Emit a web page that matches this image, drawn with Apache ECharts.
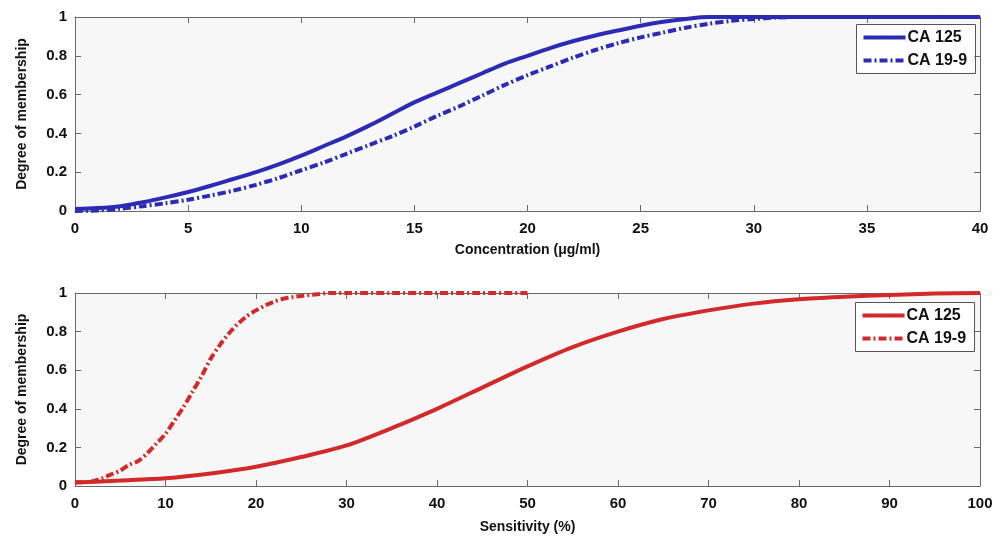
<!DOCTYPE html>
<html>
<head>
<meta charset="utf-8">
<script src="https://cdn.jsdelivr.net/npm/echarts@6/dist/echarts.min.js"></script>
<style>
  html, body { margin: 0; padding: 0; background: #ffffff; }
  #chart { width: 1007px; height: 539px; }
</style>
</head>
<body>
<div id="chart"></div>
<script>
// 浓度 (μg/ml)
const concX = [0, 1, 2, 3, 4, 5, 6, 7, 8, 9, 10, 11, 12, 13, 14, 15, 16, 17, 18, 19, 20,
  21, 22, 23, 24, 25, 26, 27, 28, 29, 30, 31, 32, 34, 36, 38, 40]
const concCA125 = [0.01, 0.015, 0.025, 0.045, 0.07, 0.098, 0.13, 0.165, 0.2, 0.24, 0.285,
  0.335, 0.385, 0.44, 0.5, 0.56, 0.61, 0.66, 0.71, 0.76, 0.8,
  0.84, 0.875, 0.905, 0.93, 0.955, 0.975, 0.99, 1, 1, 1, 1, 1, 1, 1, 1, 1]
const concCA199 = [0, 0.003, 0.012, 0.025, 0.04, 0.058, 0.08, 0.105, 0.135, 0.17, 0.21,
  0.25, 0.295, 0.34, 0.385, 0.435, 0.49, 0.54, 0.595, 0.65, 0.7,
  0.745, 0.79, 0.83, 0.865, 0.895, 0.92, 0.945, 0.965, 0.98, 0.99, 0.997, 1, 1, 1, 1, 1]

// 灵敏度 (%)
const sensX125 = [0, 5, 10, 15, 20, 25, 30, 35, 40, 45, 50, 55, 60, 65, 70, 75, 80, 85, 90, 95, 100]
const sensCA125 = [0.018, 0.028, 0.04, 0.065, 0.1, 0.15, 0.21, 0.3, 0.4, 0.51, 0.62,
  0.72, 0.8, 0.865, 0.91, 0.945, 0.967, 0.98, 0.99, 0.997, 1]
const sensX199 = [0, 1, 2, 3, 4, 5, 6, 7, 8, 9, 10, 11, 12, 13, 14, 15, 16, 17, 18, 19, 20,
  21, 22, 23, 24, 25, 26, 27, 28, 30, 35, 40, 45, 50]
const sensCA199 = [0.02, 0.02, 0.025, 0.04, 0.06, 0.08, 0.11, 0.13, 0.17, 0.22, 0.27,
  0.34, 0.41, 0.49, 0.57, 0.66, 0.73, 0.79, 0.84, 0.88, 0.91,
  0.935, 0.955, 0.97, 0.978, 0.985, 0.99, 0.995, 1, 1, 1, 1, 1, 1]

const legendLabels = ['CA 125', 'CA 19-9']

const blue = '#2b2bb5'
const red = '#d22a2a'
const dashDot = [8, 3, 2, 3]
const font = 'Liberation Sans, Arial, sans-serif'

const pairs = (xs, ys) => xs.map((x, i) => [x, ys[i]])

const labelStyle = { color: '#111', fontSize: 15, fontWeight: 'bold', fontFamily: font }
const nameStyle = { color: '#111', fontSize: 14, fontWeight: 'bold', fontFamily: font }
const axisLine = { show: true, onZero: false, lineStyle: { color: '#6a6a6a', width: 1 } }
const tick = { show: true, inside: true, length: 6, lineStyle: { color: '#6a6a6a' } }

function xAxisPair (gridIndex, max, interval, name, nameGap) {
  return [
    {
      gridIndex, type: 'value', min: 0, max, interval, position: 'bottom',
      name, nameLocation: 'middle', nameGap, nameTextStyle: nameStyle,
      axisLine, axisTick: tick, splitLine: { show: false },
      axisLabel: Object.assign({ margin: 10 }, labelStyle)
    },
    {
      gridIndex, type: 'value', min: 0, max, interval, position: 'top',
      axisLine, axisTick: tick, splitLine: { show: false }, axisLabel: { show: false }
    }
  ]
}

function yAxisPair (gridIndex) {
  return [
    {
      gridIndex, type: 'value', min: 0, max: 1, interval: 0.2, position: 'left',
      name: 'Degree of membership', nameLocation: 'middle', nameGap: 46, nameTextStyle: nameStyle,
      axisLine, axisTick: tick, splitLine: { show: false },
      axisLabel: Object.assign({ margin: 8 }, labelStyle)
    },
    {
      gridIndex, type: 'value', min: 0, max: 1, interval: 0.2, position: 'right',
      axisLine, axisTick: tick, splitLine: { show: false }, axisLabel: { show: false }
    }
  ]
}

// 图例用 graphic 画，带边框
function legendBox (left, top, color) {
  const rows = [
    { y: 13, dash: null },
    { y: 36, dash: dashDot }
  ]
  const children = [{
    type: 'rect', shape: { x: 0, y: 0, width: 119, height: 49 },
    style: { fill: '#fff', stroke: '#555', lineWidth: 1 }
  }]
  rows.forEach((r, i) => {
    children.push({
      type: 'line', shape: { x1: 7, y1: r.y, x2: 49, y2: r.y },
      style: { stroke: color, lineWidth: 4, lineDash: r.dash }
    })
    children.push({
      type: 'text', x: 51, y: r.y,
      style: {
        text: legendLabels[i], fill: '#111', fontSize: 16, fontWeight: 'bold',
        fontFamily: font, verticalAlign: 'middle'
      }
    })
  })
  return { type: 'group', left, top, children }
}

function lineSeries (name, x, y, xAxisIndex, yAxisIndex, color, type) {
  return {
    name, type: 'line', xAxisIndex, yAxisIndex, data: pairs(x, y),
    smooth: 0.3, symbol: 'none', showSymbol: false,
    lineStyle: { color, width: 4, type },
    itemStyle: { color }
  }
}

const chart = echarts.init(document.getElementById('chart'))
chart.setOption({
  backgroundColor: '#ffffff',
  animation: false,
  grid: [
    { left: 75, right: 27, top: 17, height: 194, show: true, backgroundColor: '#f7f7f7', borderWidth: 0 },
    { left: 75, right: 27, top: 293, height: 193, show: true, backgroundColor: '#f7f7f7', borderWidth: 0 }
  ],
  xAxis: [
    ...xAxisPair(0, 40, 5, 'Concentration (μg/ml)', 32),
    ...xAxisPair(1, 100, 10, 'Sensitivity (%)', 34)
  ],
  yAxis: [...yAxisPair(0), ...yAxisPair(1)],
  series: [
    lineSeries('CA 125', concX, concCA125, 0, 0, blue, 'solid'),
    lineSeries('CA 19-9', concX, concCA199, 0, 0, blue, dashDot),
    lineSeries('CA 125', sensX125, sensCA125, 2, 2, red, 'solid'),
    lineSeries('CA 19-9', sensX199, sensCA199, 2, 2, red, dashDot)
  ],
  graphic: [
    legendBox(856, 24, blue),
    legendBox(855, 302, red)
  ]
})
</script>
</body>
</html>
